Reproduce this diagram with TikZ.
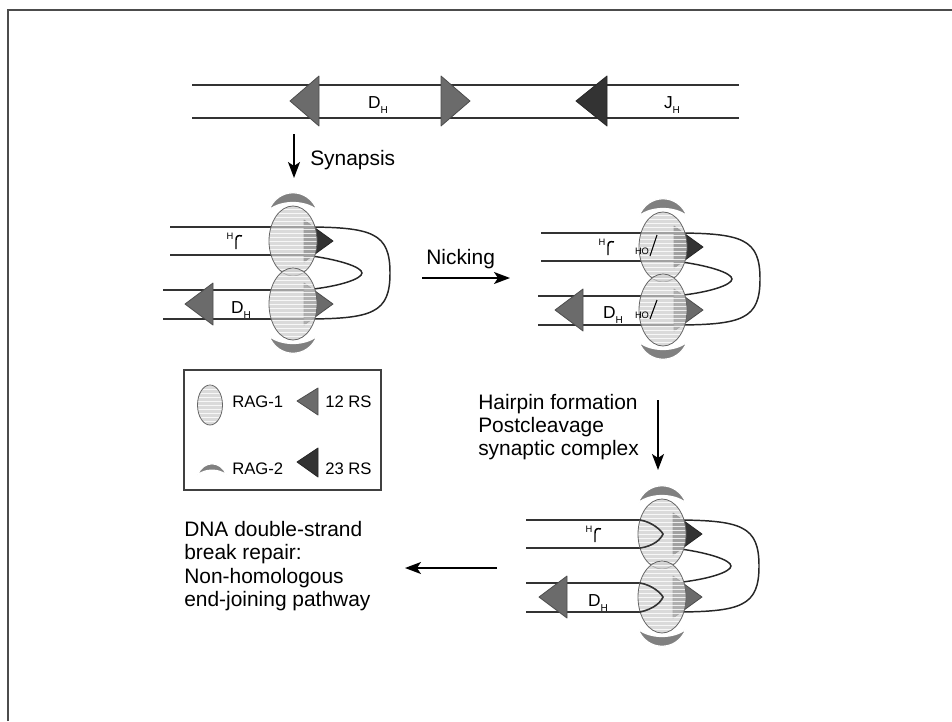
\documentclass[tikz,border=0pt]{standalone}
\usepackage{fontspec}
\setmainfont{Liberation Sans}
\usetikzlibrary{arrows.meta}

\definecolor{rsmid}{gray}{0.42}
\definecolor{rsdark}{gray}{0.2}
\definecolor{ragfill}{gray}{0.8}
\definecolor{ragline}{gray}{0.4}
\definecolor{ragtwocol}{gray}{0.5}

\tikzset{
  strand/.style={line width=1.2pt, draw=black!80},
  loopline/.style={line width=1.1pt, draw=black!85},
  rs12/.style={fill=rsmid, draw=black!70, line width=0.6pt, line join=round},
  rs23/.style={fill=rsdark, draw=black!85, line width=0.6pt, line join=round},
  steparrow/.style={line width=1.2pt, -{Stealth[length=12pt,width=9pt,inset=3pt]}},
  lbl/.style={font=\fontsize{15.7}{17.5}\selectfont, align=left, inner sep=0pt},
  keylbl/.style={font=\fontsize{12.5}{14}\selectfont, inner sep=0pt},
  seg/.style={font=\fontsize{13}{14}\selectfont, inner sep=0pt},
  tiny/.style={font=\fontsize{7}{8}\selectfont, inner sep=0pt},
}

% gene segment name with its small H
\newcommand{\seglab}[1]{#1\raisebox{-0.45ex}{\fontsize{7.5}{8}\selectfont H}}

% striped RAG-1 oval: x, y, x radius, y radius
\newcommand{\ragone}[4]{%
  \begin{scope}[shift={(#1,#2)}]
    \begin{scope}
      \clip (0,0) ellipse ({#3} and {#4});
      \fill[ragfill, fill opacity=0.72] (-#3,-#4) rectangle (#3,#4);
      \foreach \k in {-40,-36,...,40}
        \draw[white, line width=0.7pt, opacity=0.8] (-#3,\k) -- (#3,\k);
    \end{scope}
    \draw[ragline, line width=0.6pt] (0,0) ellipse ({#3} and {#4});
  \end{scope}}

% RAG-2 cap, placed by its options
\newcommand{\ragtwo}[1]{%
  \fill[ragtwocol, draw=white, line width=0.9pt, #1]
    (-24,0) .. controls (-15,-23) and (15,-23) .. (24,0)
    .. controls (12,-10) and (-12,-10) .. cycle;}

% coding end hook with its H
\newcommand{\codingend}[3]{%
  \begin{scope}[shift={(#1,#2)}]
    \node[tiny] (#3-h) at (0,-5) {H};
    \draw[line width=1.1pt] (6,8) -- (6,-1) .. controls (6,-5) and (8,-6) .. (12,-5);
  \end{scope}}

% paired segments held by RAG-1/RAG-2:
% top strands start, bottom strands start, strands end, 12 RS tip
\newcommand{\synapse}[4]{%
  \draw[strand] (#1,-14) -- (#3,-14);
  \draw[strand] (#1,14) -- (#3,14);
  \draw[strand] (#2,49) -- (#3,49);
  \draw[strand] (#2,78) -- (#3,78);
  % loop between the signal ends
  \draw[loopline] (11,-14) .. controls (80,-14) and (97,-8) .. (97,32)
    .. controls (97,72) and (80,78) .. (11,78);
  \draw[loopline] (11,14) .. controls (45,18) and (69,26) .. (69,32)
    .. controls (69,38) and (45,46) .. (11,49);
  % signal sequences
  \draw[rs23] (40,0) -- (11,-21) -- (11,21) -- cycle;
  \draw[rs12] (40,63) -- (11,42) -- (11,84) -- cycle;
  \draw[rs12] (#4,63) -- ({#4+28},42) -- ({#4+28},84) -- cycle;
  % RAG proteins
  \ragone{0}{0}{24}{35}
  \ragone{0}{63}{24}{36}
  \ragtwo{shift={(0,-31)}}
  \ragtwo{shift={(0,95)}, yscale=-1}
}

\begin{document}
\begin{tikzpicture}[x=0.75pt, y=-0.75pt]
  \useasboundingbox (0,0) rectangle (952,721);
  \draw[line width=1.2pt, black!70] (8,721) -- (8,10) -- (952,10);

  % germline locus
  \draw[strand] (192,85) -- (739,85);
  \draw[strand] (192,118) -- (739,118);
  \draw[rs12] (290,101) -- (319,76) -- (319,126) -- cycle;
  \draw[rs12] (470,101) -- (441,76) -- (441,126) -- cycle;
  \draw[rs23] (576,101) -- (607,76) -- (607,126) -- cycle;
  \node[seg] (dh) at (378,105) {\seglab{D}};
  \node[seg] (jh) at (672,105) {\seglab{J}};

  % synapsis
  \coordinate (syn-a) at (294,134);
  \coordinate (syn-b) at (294,178);
  \draw[steparrow] (syn-a) -- (syn-b);
  \node[lbl, anchor=west] (syn) at (310,160) {Synapsis};

  % paired complex
  \begin{scope}[shift={(293,241)}]
    \synapse{-123}{-130}{11}{-108}
    \codingend{-63}{0}{ca}
    \node[seg] (ca-d) at (-52,69) {\seglab{D}};
  \end{scope}

  % nicking
  \coordinate (nick-a) at (422,278);
  \coordinate (nick-b) at (510,278);
  \draw[steparrow] (nick-a) -- (nick-b);
  \node[lbl, anchor=west] (nick) at (426,259) {Nicking};

  % nicked complex
  \begin{scope}[shift={(663,247)}]
    \synapse{-122}{-125}{11}{-108}
    \codingend{-61}{0}{cb}
    \node[seg] (cb-d) at (-50,68) {\seglab{D}};
    \node[tiny] (cb-ho1) at (-21,4) {HO};
    \draw[line width=0.8pt] (-13,9) -- (-6,-12);
    \node[tiny] (cb-ho2) at (-21,68) {HO};
    \draw[line width=0.8pt] (-13,72) -- (-6,53);
  \end{scope}

  % hairpin formation
  \coordinate (hp-a) at (658,400);
  \coordinate (hp-b) at (658,470);
  \draw[steparrow] (hp-a) -- (hp-b);
  \node[lbl, anchor=west] (hp) at (478,427)
    {Hairpin formation\\Postcleavage\\synaptic complex};

  % postcleavage complex
  \begin{scope}[shift={(662,534)}]
    \synapse{-136}{-136}{-22}{-123}
    \draw[strand] (-22,-14) .. controls (-10,-12) and (-1,-4) .. (1,0)
      .. controls (-1,5) and (-8,12) .. (-22,14);
    \draw[strand] (-22,49) .. controls (-10,51) and (-1,59) .. (1,63)
      .. controls (-1,68) and (-8,75) .. (-22,78);
    \codingend{-73}{0}{cc}
    \node[seg] (cc-d) at (-64,69) {\seglab{D}};
  \end{scope}

  % repair
  \coordinate (rep-a) at (497,568);
  \coordinate (rep-b) at (405,568);
  \draw[steparrow] (rep-a) -- (rep-b);
  \node[lbl, anchor=west] (rep) at (184,566)
    {DNA double-strand\\break repair:\\Non-homologous\\end-joining pathway};

  % key
  \draw[line width=0.9pt, black!75] (184,370) rectangle (381,490);
  \ragone{210}{405}{12.5}{20}
  \node[keylbl, anchor=west] (k-rag1) at (232,402) {RAG-1};
  \draw[rs12] (297,401) -- (318,388) -- (318,415) -- cycle;
  \node[keylbl, anchor=west] (k-rs12) at (325,402) {12 RS};
  \ragtwo{shift={(212,475)}, xscale=0.6, yscale=0.65}
  \node[keylbl, anchor=west] (k-rag2) at (232,469) {RAG-2};
  \draw[rs23] (297,462) -- (318,448) -- (318,477) -- cycle;
  \node[keylbl, anchor=west] (k-rs23) at (325,469) {23 RS};
\end{tikzpicture}
\end{document}
